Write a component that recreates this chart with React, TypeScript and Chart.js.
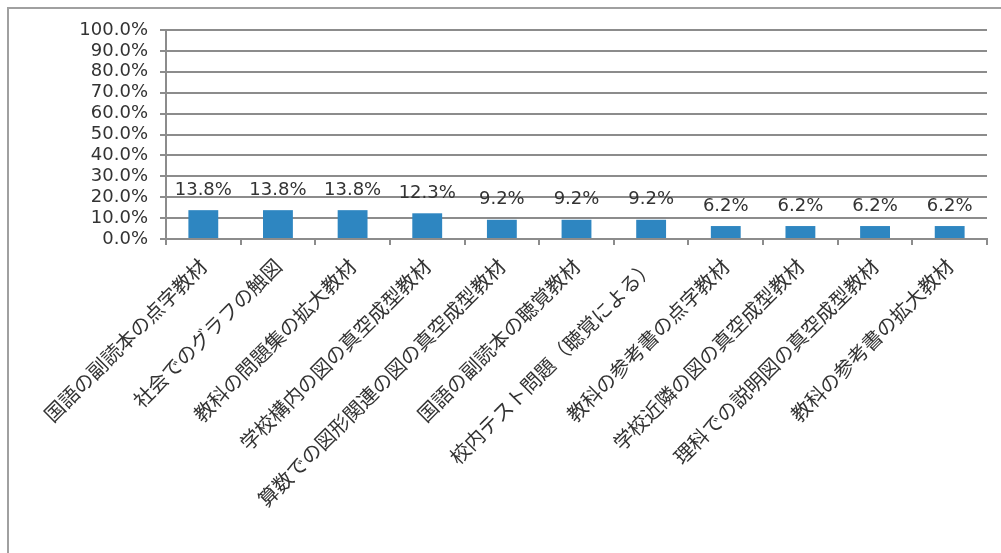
import React, { useEffect, useRef } from "react";
import { Chart, registerables } from "chart.js";

Chart.register(...registerables);

const categories: string[] = [
  "国語の副読本の点字教材",
  "社会でのグラフの触図",
  "教科の問題集の拡大教材",
  "学校構内の図の真空成型教材",
  "算数での図形関連の図の真空成型教材",
  "国語の副読本の聴覚教材",
  "校内テスト問題（聴覚による）",
  "教科の参考書の点字教材",
  "学校近隣の図の真空成型教材",
  "理科での説明図の真空成型教材",
  "教科の参考書の拡大教材",
];

const values: number[] = [13.8, 13.8, 13.8, 12.3, 9.2, 9.2, 9.2, 6.2, 6.2, 6.2, 6.2];

const yMin = 0;
const yMax = 100;
const yStep = 10;

const TEXT = "#333333";
const GRID = "#8c8c8c";
const BAR = "#2e86c1";
const NUM_FONT = "'DejaVu Sans', 'Noto Sans CJK JP', sans-serif";
const CJK_FONT = "'Noto Sans CJK JP', sans-serif";

const dataLabelPlugin = {
  id: "dataLabels",
  afterDatasetsDraw(chart: any) {
    const ctx = chart.ctx;
    const meta = chart.getDatasetMeta(0);
    ctx.save();
    ctx.font = `18px ${NUM_FONT}`;
    ctx.fillStyle = TEXT;
    ctx.textAlign = "center";
    ctx.textBaseline = "middle";
    meta.data.forEach((el: any, i: number) => {
      ctx.fillText(values[i].toFixed(1) + "%", el.x, el.y - 20);
    });
    ctx.restore();
  },
};

export default function App() {
  const ref = useRef<HTMLCanvasElement | null>(null);

  useEffect(() => {
    document.body.style.margin = "0";
    document.body.style.overflow = "hidden";
    const canvas = ref.current;
    if (!canvas) return;
    const chart = new Chart(canvas, {
      type: "bar",
      data: {
        labels: categories,
        datasets: [
          {
            data: values,
            backgroundColor: BAR,
            borderWidth: 0,
            barPercentage: 0.4,
            categoryPercentage: 1,
          },
        ],
      },
      options: {
        animation: false,
        responsive: false,
        devicePixelRatio: 1,
        layout: { padding: { top: 30, right: 14, left: 0, bottom: 0 } },
        plugins: {
          legend: { display: false },
          tooltip: { enabled: false },
        },
        scales: {
          x: {
            offset: true,
            afterFit: (scale: any) => {
              scale.height = 553 - 239;
            },
            grid: {
              offset: true,
              drawOnChartArea: false,
              drawTicks: true,
              tickLength: 6,
              color: GRID,
              lineWidth: 2,
            },
            border: { color: GRID, width: 2 },
            ticks: {
              autoSkip: false,
              minRotation: 45,
              maxRotation: 45,
              padding: 9,
              color: TEXT,
              font: { family: CJK_FONT, size: 20 },
            },
          },
          y: {
            min: yMin,
            max: yMax,
            afterFit: (scale: any) => {
              scale.width = 166;
            },
            grid: {
              color: GRID,
              lineWidth: 2,
              drawTicks: true,
              tickLength: 6,
            },
            border: { color: GRID, width: 2 },
            ticks: {
              stepSize: yStep,
              autoSkip: false,
              padding: 12,
              color: TEXT,
              font: { family: NUM_FONT, size: 18 },
              callback: (v: any) => Number(v).toFixed(1) + "%",
            },
          },
        },
      },
      plugins: [dataLabelPlugin],
    });
    return () => chart.destroy();
  }, []);

  return (
    <div style={{ position: "absolute", left: 0, top: 0, width: 1001, height: 553, background: "#fff" }}>
      <div
        style={{
          position: "absolute",
          left: 7,
          top: 7,
          width: 994,
          height: 546,
          borderLeft: "2px solid #a0a0a0",
          borderTop: "2px solid #a0a0a0",
          boxSizing: "border-box",
        }}
      />
      <canvas ref={ref} width={1001} height={553} style={{ position: "absolute", left: 0, top: 0 }} />
    </div>
  );
}
